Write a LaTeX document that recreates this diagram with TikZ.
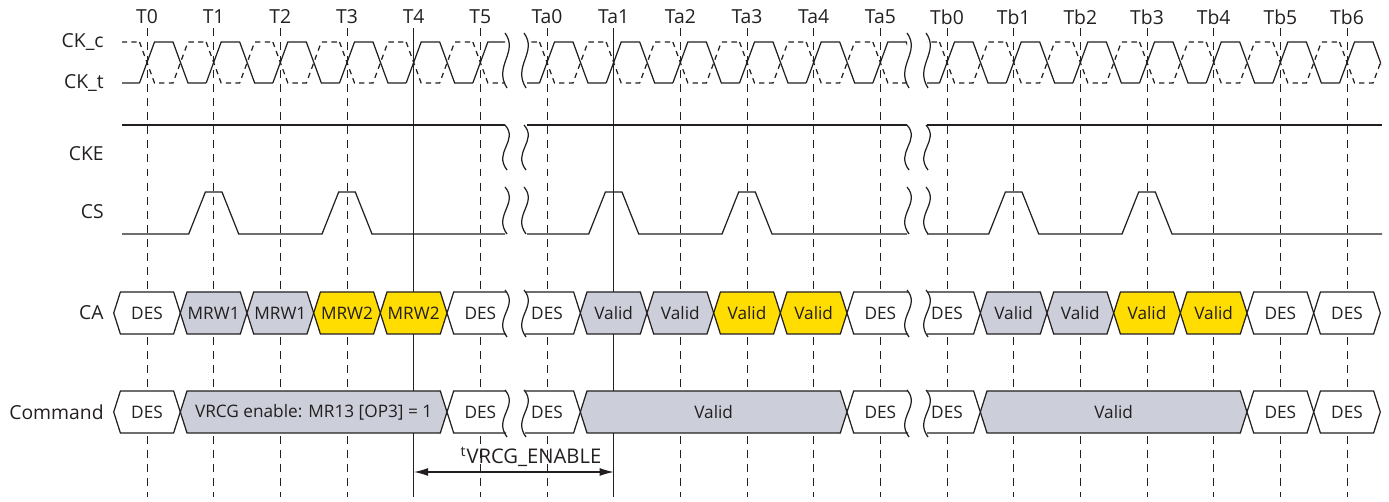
\documentclass[tikz,border=0pt]{standalone}
\usepackage{fontspec}
\setmainfont{Open Sans}
\usepackage{xcolor}
\usetikzlibrary{arrows.meta}

\definecolor{ink}{RGB}{35,31,32}
\definecolor{valgray}{RGB}{204,207,217}
\definecolor{mrwyellow}{RGB}{255,221,0}

% hexagon bus cell: x-left, x-right, y-centre, fill, name, text
\newcommand{\hexcell}[6]{%
  \draw[cellbox, fill=#4] (#1,#3) -- ({#1+6.7},{#3-21}) -- ({#2-6.7},{#3-21})
    -- (#2,#3) -- ({#2-6.7},{#3+21}) -- ({#1+6.7},{#3+21}) -- cycle;
  \node[celltxt] (#5) at ({(#1+#2)/2},#3) {#6};}
% cell cut open on the right by a break: x-left, x-break, y-centre, text-x, name, text
\newcommand{\cellcutR}[6]{%
  \draw[cellbox, fill=white] (#2,{#3-21}) -- ({#1+6.7},{#3-21}) -- (#1,#3)
    -- ({#1+6.7},{#3+21}) -- (#2,{#3+21});
  \node[celltxt] (#5) at (#4,#3) {#6};}
% cell cut open on the left by a break: x-break, x-right, y-centre, text-x, name, text
\newcommand{\cellcutL}[6]{%
  \draw[cellbox, fill=white] (#1,{#3-21}) -- ({#2-6.7},{#3-21}) -- (#2,#3)
    -- ({#2-6.7},{#3+21}) -- (#1,{#3+21});
  \node[celltxt] (#5) at (#4,#3) {#6};}
% time break: x, top, bottom
\newcommand{\brkwave}[3]{%
  \draw[sig] (#1,#2) .. controls ({#1+14},{#2+0.35*(#3-#2)}) and ({#1-12},{#2+0.6*(#3-#2)}) .. ({#1+2},#3);
  \draw[sig] ({#1+19},#2) .. controls ({#1+33},{#2+0.35*(#3-#2)}) and ({#1+7},{#2+0.6*(#3-#2)}) .. ({#1+21},#3);}

\begin{document}
\begin{tikzpicture}[
  x=0.02cm, y=-0.02cm,
  >={Latex[length=8pt,width=4.5pt]},
  sig/.style={draw=ink, line width=0.7pt},
  ckc/.style={dash pattern=on 3pt off 2.5pt},
  gridline/.style={draw=ink, line width=0.45pt, dash pattern=on 4.5pt off 3.5pt},
  refline/.style={draw=ink, line width=0.6pt},
  cellbox/.style={draw=ink, line width=0.7pt},
  celltxt/.style={text=ink, inner sep=0pt, font=\fontsize{9.8}{12}\selectfont},
  ticklbl/.style={text=ink, inner sep=0pt, font=\fontsize{11}{13}\selectfont},
  rowlbl/.style={text=ink, inner sep=0pt, anchor=east, font=\fontsize{11}{13}\selectfont},
]
  \useasboundingbox (0,0) rectangle (1389,502);

  % Clock edges: labels and vertical lines
  \foreach \lbl [count=\i from 0] in {T0,T1,T2,T3,T4,T5,Ta0,Ta1,Ta2,Ta3,Ta4,Ta5,Tb0,Tb1,Tb2,Tb3,Tb4,Tb5,Tb6} {
    \pgfmathsetmacro\x{147+66.667*\i}
    \node[ticklbl] (tk-\lbl) at (\x,17) {\lbl};
    \ifnum\i=4 \def\gs{refline}\else\ifnum\i=7 \def\gs{refline}\else\def\gs{gridline}\fi\fi
    \draw[\gs] (\x,28) -- (\x,497);
  }

  % Row labels
  \node[rowlbl] (lbl-ckc) at (104,42) {CK\_c};
  \node[rowlbl] (lbl-ckt) at (104,83) {CK\_t};
  \node[rowlbl] (lbl-cke) at (104,154) {CKE};
  \node[rowlbl] (lbl-cs) at (104,212) {CS};
  \node[rowlbl] (lbl-ca) at (104,313) {CA};
  \node[rowlbl] (lbl-cmd) at (104,412) {Command};

  % CK_t / CK_c
  \foreach \xs/\xe/\ia/\ib in {122/505/-1/5, 527/907/5/11, 927/1381/11/18} {
    \begin{scope}
      \clip (\xs,30) rectangle (\xe,95);
      \foreach \i in {\ia,...,\ib} {
        \pgfmathsetmacro\t{147+66.667*\i}
        \draw[sig] (\t-7.5,83) -- (\t+7.5,42) -- (\t+26,42) -- (\t+41,83) -- (\t+59.2,83);
        \draw[sig, ckc] (\t-7.5,42) -- (\t+7.5,83) -- (\t+26,83) -- (\t+41,42) -- (\t+59.2,42);
      }
    \end{scope}
  }

  % CKE
  \draw[sig] (122,125) -- (505,125);
  \draw[sig] (527,125) -- (907,125);
  \draw[sig] (927,125) -- (1382,125);

  % CS
  \draw[sig] (122,234) \foreach \t in {213.7,347} {-- (\t-25,234) -- (\t-8.3,192) -- (\t+8.3,192) -- (\t+25,234)} -- (505,234);
  \draw[sig] (527,234) \foreach \t in {613.7,747} {-- (\t-25,234) -- (\t-8.3,192) -- (\t+8.3,192) -- (\t+25,234)} -- (907,234);
  \draw[sig] (927,234) \foreach \t in {1013.7,1147} {-- (\t-25,234) -- (\t-8.3,192) -- (\t+8.3,192) -- (\t+25,234)} -- (1382,234);

  % CA
  \foreach \xa/\xb/\col/\txt [count=\k] in {113.7/180.3/white/DES, 180.3/247/valgray/MRW1,
      247/313.7/valgray/MRW1, 313.7/380.3/mrwyellow/MRW2, 380.3/447/mrwyellow/MRW2,
      580.3/647/valgray/Valid, 647/713.7/valgray/Valid, 713.7/780.3/mrwyellow/Valid,
      780.3/847/mrwyellow/Valid, 980.3/1047/valgray/Valid, 1047/1113.7/valgray/Valid,
      1113.7/1180.3/mrwyellow/Valid, 1180.3/1247/mrwyellow/Valid, 1247/1313.7/white/DES,
      1313.7/1380.3/white/DES}
    \hexcell{\xa}{\xb}{313}{\col}{ca-\k}{\txt};
  \cellcutR{447}{506}{313}{480.3}{ca-t5}{DES}
  \cellcutL{525}{580.3}{313}{547}{ca-ta0}{DES}
  \cellcutR{847}{908}{313}{880.3}{ca-ta5}{DES}
  \cellcutL{927}{980.3}{313}{947}{ca-tb0}{DES}

  % Command
  \foreach \xa/\xb/\col/\txt [count=\k] in {113.7/180.3/white/DES,
      180.3/447/valgray/{VRCG enable: MR13 [OP3] = 1}, 580.3/847/valgray/Valid,
      980.3/1247/valgray/Valid, 1247/1313.7/white/DES, 1313.7/1380.3/white/DES}
    \hexcell{\xa}{\xb}{412}{\col}{cmd-\k}{\txt};
  \cellcutR{447}{506}{412}{480.3}{cmd-t5}{DES}
  \cellcutL{525}{580.3}{412}{547}{cmd-ta0}{DES}
  \cellcutR{847}{908}{412}{880.3}{cmd-ta5}{DES}
  \cellcutL{927}{980.3}{412}{947}{cmd-tb0}{DES}

  % Time breaks
  \foreach \xb in {505,907} {
    \brkwave{\xb}{33}{88}
    \brkwave{\xb}{125}{170}
    \brkwave{\xb}{187}{234}
    \brkwave{\xb}{290}{337}
    \brkwave{\xb}{390}{437}
  }

  % tVRCG_ENABLE
  \coordinate (vrcgL) at (414,472);
  \coordinate (vrcgR) at (613.7,472);
  \draw[refline, <->] (vrcgL) -- (vrcgR);
  \node[ticklbl, font=\fontsize{11.5}{13}\selectfont] (tvrcg) at (531,457) {\textsuperscript{t}VRCG\_ENABLE};
\end{tikzpicture}
\end{document}
